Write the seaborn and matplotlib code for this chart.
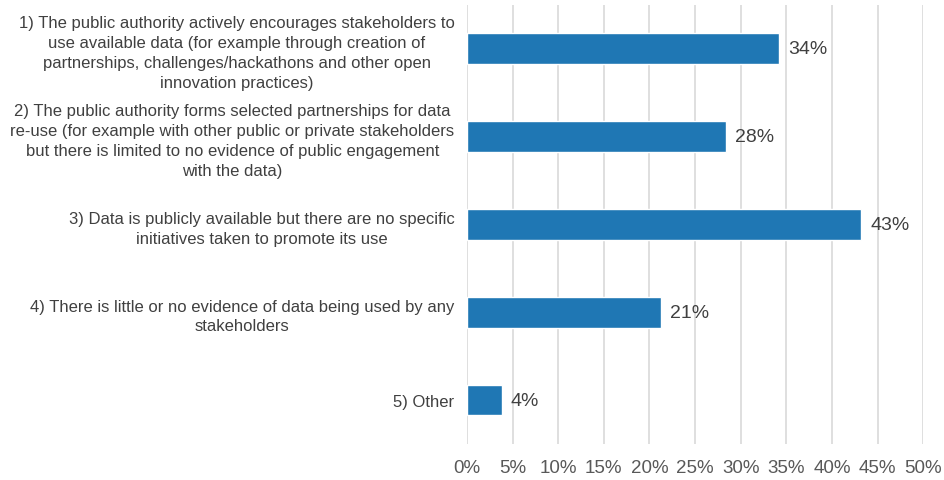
import pandas as pd
import matplotlib as mpl
mpl.use('Agg')
import matplotlib.pyplot as plt
import seaborn as sns
from matplotlib.ticker import MultipleLocator, FuncFormatter

categories = [
    "1) The public authority actively encourages stakeholders to\nuse available data (for example through creation of\npartnerships, challenges/hackathons and other open\ninnovation practices)",
    "2) The public authority forms selected partnerships for data\nre-use (for example with other public or private stakeholders\nbut there is limited to no evidence of public engagement\nwith the data)",
    "3) Data is publicly available but there are no specific\ninitiatives taken to promote its use",
    "4) There is little or no evidence of data being used by any\nstakeholders",
    "5) Other",
]
shares = [34.2, 28.4, 43.2, 21.3, 3.8]
share_labels = ["34%", "28%", "43%", "21%", "4%"]

df = pd.DataFrame({"category": categories, "share": shares})

sns.set_theme(style="white")
plt.rcParams['font.family'] = ['Liberation Sans', 'DejaVu Sans']

fig, ax = plt.subplots(figsize=(9.44, 4.81), dpi=100)
fig.subplots_adjust(left=0.4947, right=0.978, top=0.988, bottom=0.075)

sns.barplot(data=df, x="share", y="category", color="#1f77b4", saturation=1,
            width=0.35, ax=ax, zorder=3)

for p, lab in zip(ax.patches, share_labels):
    ax.text(p.get_width() + 1.0, p.get_y() + p.get_height() / 2, lab,
            va="center", ha="left", fontsize=14, color="#404040")

ax.set_xlim(0, 50)
ax.xaxis.set_major_locator(MultipleLocator(5))
ax.xaxis.set_major_formatter(FuncFormatter(lambda v, pos: f"{v:.0f}%"))
ax.grid(axis="x", color="#d9d9d9", linewidth=1.2, zorder=0)
ax.set_axisbelow(True)
for s in ax.spines.values():
    s.set_visible(False)
ax.set_xlabel("")
ax.set_ylabel("")
ax.tick_params(axis="x", labelsize=13.5, labelcolor="#595959", length=0, pad=11)
ax.tick_params(axis="y", labelsize=12, labelcolor="#404040", length=0, pad=9)
for t in ax.get_yticklabels():
    t.set_multialignment("center")
    t.set_linespacing(1.4)

plt.savefig("out.png", dpi=100)
plt.close()
